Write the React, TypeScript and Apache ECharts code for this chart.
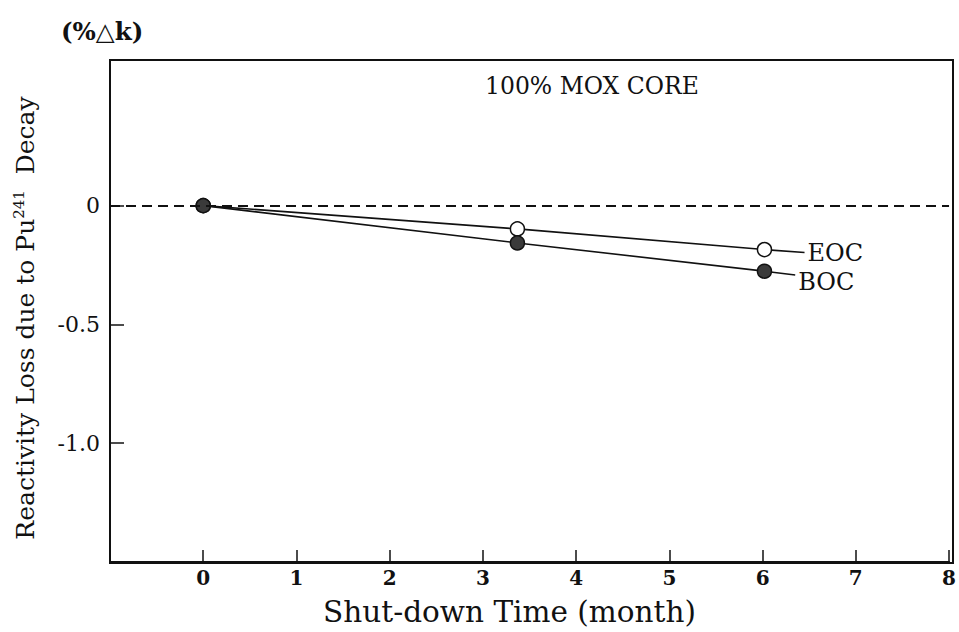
import React, { useEffect, useRef } from "react";
import * as echarts from "echarts";

const eocX = [0, 3.37, 6.02, 6.45];
const eocY = [0, -0.098, -0.185, -0.197];
const bocX = [0, 3.37, 6.02, 6.35];
const bocY = [0, -0.157, -0.276, -0.292];
const xTicks = [0, 1, 2, 3, 4, 5, 6, 7, 8];
const yTicks = [0, -0.5, -1.0];

const FONT = "'DejaVu Serif', 'Liberation Serif', serif";

function buildData(xs: number[], ys: number[]) {
  return xs.map((x, i) => {
    const last = i === xs.length - 1;
    return {
      value: [x, ys[i]],
      symbol: last ? "none" : "circle",
    };
  });
}

export default function App() {
  const ref = useRef<HTMLDivElement>(null);
  useEffect(() => {
    if (!ref.current) return;
    const chart = echarts.init(ref.current, undefined, { renderer: "svg" });
    const endLabel = (name: string, dy: number) => ({
      show: true,
      formatter: name,
      distance: 3,
      offset: [0, dy],
      fontFamily: FONT,
      fontSize: 24,
      lineHeight: 22,
      color: "#111",
    });
    chart.setOption({
      animation: false,
      backgroundColor: "#fff",
      grid: { left: 110, right: 6, top: 60, bottom: 69 },
      xAxis: {
        type: "value",
        min: -1,
        max: 8,
        interval: 1,
        axisLine: { show: true, onZero: false, lineStyle: { color: "#111", width: 2 } },
        axisTick: { show: true, inside: true, length: 12, customValues: xTicks, lineStyle: { color: "#111", width: 1.5 } },
        axisLabel: { customValues: xTicks, fontFamily: FONT, fontSize: 20, fontWeight: "bold", color: "#111", margin: 6 },
        splitLine: { show: false },
        name: "Shut-down Time (month)",
        nameLocation: "middle",
        nameGap: 35,
        nameTextStyle: { fontFamily: FONT, fontSize: 29.5, color: "#111", padding: [0, 40, 0, 0] },
      },
      yAxis: {
        type: "value",
        min: -1.5,
        max: 0.613,
        interval: 0.5,
        axisLine: { show: true, onZero: false, lineStyle: { color: "#111", width: 2 } },
        axisTick: { show: true, inside: true, length: 14, customValues: yTicks, lineStyle: { color: "#111", width: 1.5 } },
        axisLabel: {
          customValues: yTicks,
          formatter: (v: number) => (v === 0 ? "0" : v.toFixed(1)),
          fontFamily: FONT,
          fontSize: 22,
          color: "#111",
          margin: 10,
        },
        splitLine: { show: false },
      },
      graphic: [
        {
          type: "rect",
          shape: { x: 110, y: 60, width: 843, height: 503 },
          style: { fill: "none", stroke: "#111", lineWidth: 2 },
          silent: true,
          z: 10,
        },
        {
          type: "text",
          x: 61,
          y: 31,
          style: { text: "(%\u25B3k)", fontFamily: FONT, fontSize: 24.5, fontWeight: "bold", fill: "#111", verticalAlign: "middle" },
        },
        {
          type: "text",
          x: 485,
          y: 86,
          style: { text: "100% MOX CORE", fontFamily: FONT, fontSize: 23.5, fill: "#111", verticalAlign: "middle" },
        },
        {
          type: "text",
          x: 25,
          y: 318,
          rotation: Math.PI / 2,
          style: {
            text: "{n|Reactivity Loss due to Pu}{s|241}{n|  Decay}",
            align: "center",
            verticalAlign: "middle",
            rich: {
              n: { fontFamily: FONT, fontSize: 25, fill: "#111" },
              s: { fontFamily: FONT, fontSize: 15, fill: "#111", verticalAlign: "top", padding: [0, 0, 12, 0] },
            },
          },
        },
      ],
      series: [
        {
          name: "EOC",
          type: "line",
          data: buildData(eocX, eocY),
          symbolSize: 14,
          itemStyle: { color: "#fff", borderColor: "#111", borderWidth: 1.5 },
          lineStyle: { color: "#111", width: 1.6 },
          endLabel: endLabel("EOC", 1),
          z: 3,
          markLine: {
            silent: true,
            symbol: "none",
            label: { show: false },
            lineStyle: { color: "#111", type: [10, 6], width: 2 },
            data: [{ yAxis: 0 }],
          },
        },
        {
          name: "BOC",
          type: "line",
          data: buildData(bocX, bocY),
          symbolSize: 14,
          itemStyle: { color: "#3a3a3a", borderColor: "#111", borderWidth: 1.5 },
          lineStyle: { color: "#111", width: 1.6 },
          endLabel: endLabel("BOC", 7),
          z: 4,
        },
      ],
    });
    return () => chart.dispose();
  }, []);
  return <div ref={ref} style={{ position: "fixed", left: 0, top: 0, width: 959, height: 632 }} />;
}
